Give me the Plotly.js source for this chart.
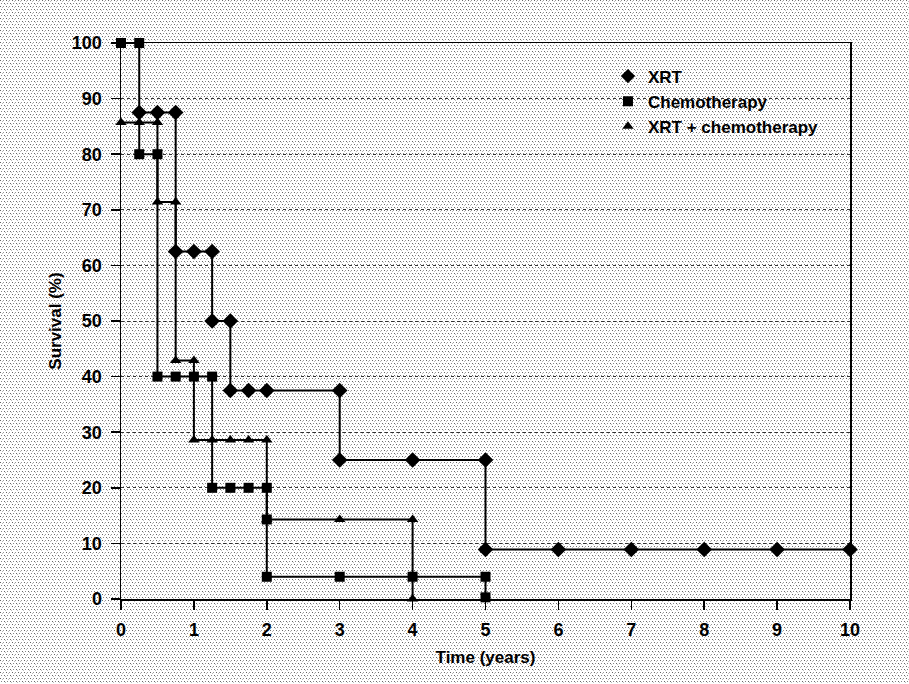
<!DOCTYPE html>
<html>
<head>
<meta charset="utf-8">
<script src="https://cdn.plot.ly/plotly-3.0.1.min.js"></script>
<style>
  html, body { margin: 0; padding: 0; }
  body {
    width: 909px; height: 684px;
    background-color: #ffffff;
    background-image: url("data:image/svg+xml,%3Csvg xmlns='http://www.w3.org/2000/svg' width='6' height='6' shape-rendering='crispEdges'%3E%3Crect x='0' y='0' width='1' height='1' fill='%23666'/%3E%3Crect x='3' y='0' width='1' height='1' fill='%23999'/%3E%3Crect x='1' y='3' width='1' height='1' fill='%23888'/%3E%3Crect x='4' y='3' width='1' height='1' fill='%23666'/%3E%3Crect x='2' y='1' width='1' height='1' fill='%23bbb'/%3E%3Crect x='5' y='4' width='1' height='1' fill='%23bbb'/%3E%3C/svg%3E");
    background-size: 6px 6px;
  }
  #chart { width: 909px; height: 684px; }
</style>
</head>
<body>
<div id="chart"></div>
<script>
// XRT (diamonds)
const xrtTime     = [0.25, 0.5, 0.75, 0.75, 1.0, 1.25, 1.25, 1.5, 1.5, 1.75, 2.0, 3.0, 3.0, 4.0, 5.0, 5.0, 6.0, 7.0, 8.0, 9.0, 10.0];
const xrtSurvival = [87.5, 87.5, 87.5, 62.5, 62.5, 62.5, 50.0, 50.0, 37.5, 37.5, 37.5, 37.5, 25.0, 25.0, 25.0, 8.9, 8.9, 8.9, 8.9, 8.9, 8.9];

// Chemotherapy (squares)
const chemoTime     = [0.0, 0.25, 0.25, 0.5, 0.5, 0.75, 1.0, 1.25, 1.25, 1.5, 1.75, 2.0, 2.0, 2.0, 3.0, 4.0, 5.0, 5.0];
const chemoSurvival = [100, 100, 80, 80, 40, 40, 40, 40, 20, 20, 20, 20, 14.3, 4.0, 4.0, 4.0, 4.0, 0.3];

// XRT + chemotherapy (triangles)
const comboTime     = [0.0, 0.25, 0.5, 0.5, 0.75, 0.75, 1.0, 1.0, 1.25, 1.5, 1.75, 2.0, 2.0, 3.0, 4.0, 4.0];
const comboSurvival = [85.7, 85.7, 85.7, 71.4, 71.4, 42.9, 42.9, 28.6, 28.6, 28.6, 28.6, 28.6, 14.3, 14.3, 14.3, 0.0];

const seriesNames = ["XRT", "Chemotherapy", "XRT + chemotherapy"];
const xTicks = [0, 1, 2, 3, 4, 5, 6, 7, 8, 9, 10];
const yTicks = [0, 10, 20, 30, 40, 50, 60, 70, 80, 90, 100];

const black = "#000000";
const lineStyle = { color: black, width: 2 };

const traces = [
  { x: xrtTime, y: xrtSurvival, mode: "lines+markers", showlegend: false, cliponaxis: false,
    line: lineStyle, marker: { symbol: "diamond", size: 12, color: black } },
  { x: comboTime, y: comboSurvival, mode: "lines+markers", showlegend: false, cliponaxis: false,
    line: lineStyle, marker: { symbol: "triangle-up", size: 10, color: black } },
  { x: chemoTime, y: chemoSurvival, mode: "lines+markers", showlegend: false, cliponaxis: false,
    line: lineStyle, marker: { symbol: "square", size: 10, color: black } },
  // legend-only entries (markers only, as in the original)
  { x: [null], y: [null], mode: "markers", name: seriesNames[0], legendrank: 1,
    marker: { symbol: "diamond", size: 11, color: black } },
  { x: [null], y: [null], mode: "markers", name: seriesNames[1], legendrank: 2,
    marker: { symbol: "square", size: 10, color: black } },
  { x: [null], y: [null], mode: "markers", name: seriesNames[2], legendrank: 3,
    marker: { symbol: "triangle-up", size: 10, color: black } }
];

const font = "Liberation Sans, Arial, Helvetica, sans-serif";

const layout = {
  width: 909, height: 684,
  paper_bgcolor: "rgba(0,0,0,0)",
  plot_bgcolor: "rgba(0,0,0,0)",
  margin: { l: 121, r: 59, t: 43, b: 85 },
  font: { family: font, color: black, size: 17, weight: "bold" },
  showlegend: true,
  legend: {
    x: 0.668, y: 0.972, xanchor: "left", yanchor: "top",
    bgcolor: "rgba(0,0,0,0)", borderwidth: 0,
    font: { family: font, size: 17, color: black, weight: "bold" },
    tracegroupgap: 0, itemwidth: 30
  },
  xaxis: {
    range: [0, 10], tickvals: xTicks, ticktext: xTicks.map(String),
    showgrid: false, zeroline: false,
    showline: true, linecolor: black, linewidth: 1.5, mirror: true,
    ticks: "outside", ticklen: 9, tickwidth: 1.5, tickcolor: black,
    ticklabelstandoff: 5,
    tickfont: { family: font, size: 18, color: black, weight: "bold" },
    title: { text: "Time (years)", standoff: 12,
             font: { family: font, size: 17, color: black, weight: "bold" } }
  },
  yaxis: {
    range: [0, 100], tickvals: yTicks, ticktext: yTicks.map(String),
    showgrid: true, gridcolor: "#333333", gridwidth: 1, griddash: "dot",
    zeroline: false,
    showline: true, linecolor: black, linewidth: 1.5, mirror: true,
    ticks: "outside", ticklen: 9, tickwidth: 1.5, tickcolor: black,
    ticklabelstandoff: 5,
    tickfont: { family: font, size: 18, color: black, weight: "bold" },
    title: { text: "Survival (%)", standoff: 6,
             font: { family: font, size: 17, color: black, weight: "bold" } }
  }
};

Plotly.newPlot("chart", traces, layout, { displayModeBar: false, staticPlot: true });
</script>
</body>
</html>
